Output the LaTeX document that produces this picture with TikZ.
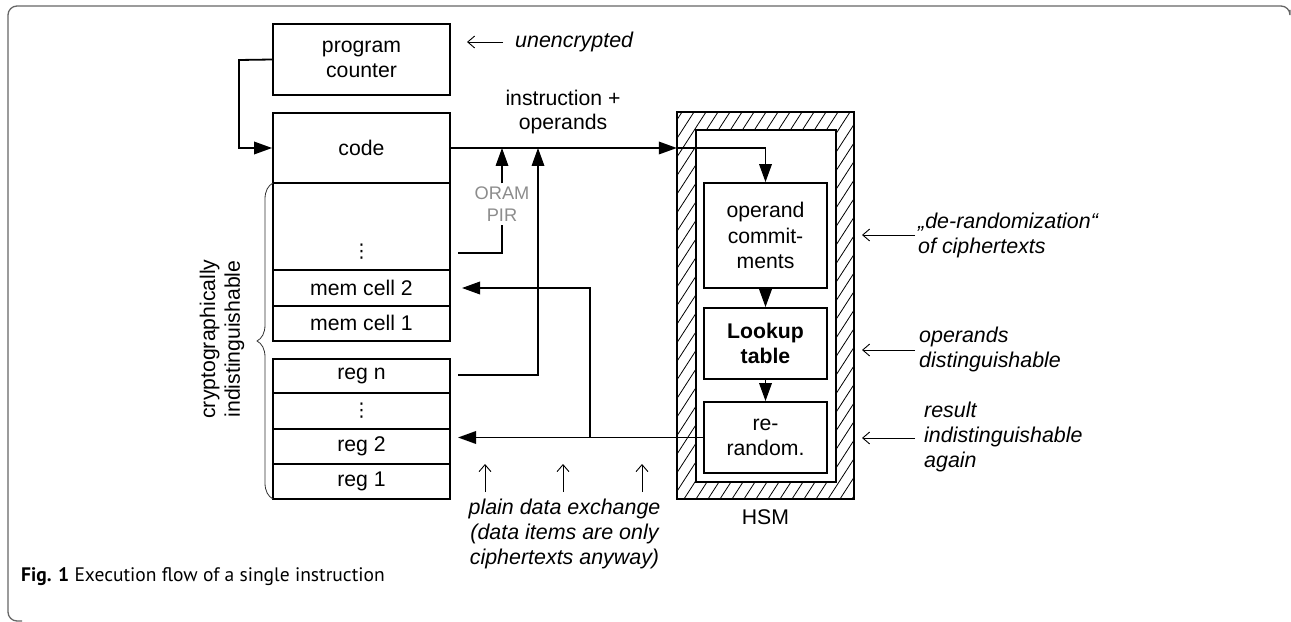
\documentclass[tikz,border=0pt]{standalone}
\usepackage{fontspec}
\setmainfont{Liberation Sans}
\newfontfamily\capfont{PT Sans}
\newfontfamily\dejavu{DejaVu Sans}
\usetikzlibrary{arrows.meta,decorations.pathreplacing,calc}
\begin{document}
\begin{tikzpicture}[x=1bp,y=-1bp,
  txt/.style={inner sep=0pt, align=center, font=\fontsize{21.3}{25}\selectfont},
  box/.style={draw, line width=1.8bp, minimum width=177bp, inner sep=0pt, align=center, font=\fontsize{21.3}{25}\selectfont},
  hbox/.style={draw, line width=1.8bp, minimum width=123bp, minimum height=71bp, inner sep=0pt, align=center, font=\fontsize{21.3}{25.5}\selectfont},
  anno/.style={inner sep=0pt, align=left, font=\itshape\fontsize{21.5}{25.5}\selectfont},
  conn/.style={line width=1.8bp},
  arr/.style={line width=1.8bp, -{Triangle[length=18bp,width=12.5bp]}},
  thinarr/.style={line width=0.9bp, -{Straight Barb[length=7bp,width=12bp]}},
  hatch/.style={line width=0.8bp},
  vd/.style={inner sep=0pt, font=\dejavu\fontsize{19}{19}\selectfont}
]
\useasboundingbox (0,0) rectangle (1291,622);
% frame
\draw[black!60, line width=1.3bp, rounded corners=9bp] (1290,10) -- (1290,6) -- (8,6) -- (8,621) -- (22,621);

% left column
\node[box, minimum height=71bp] (pc) at (361.5,59.5) {program\\counter};
\node[box, minimum height=70bp] (code) at (361.5,148) {code};
\node[box, minimum height=87.3bp] (memdots) at (361.5,226.4) {};
\node[vd] (memvd) at (361.5,252) {⋮};
\node[box, minimum height=35.7bp] (mem2) at (361.5,287.9) {mem cell 2};
\node[box, minimum height=35bp] (mem1) at (361.5,323.2) {mem cell 1};
\node[box, minimum height=34bp] (regn) at (361.5,376) {reg n};
\node[box, minimum height=36bp] (regdots) at (361.5,411) {};
\node[vd] (regvd) at (361.5,411) {⋮};
\node[box, minimum height=35bp] (reg2) at (361.5,446.5) {reg 2};
\node[box, minimum height=35bp] (reg1) at (361.5,481.5) {reg 1};

% brace
\coordinate (brtop) at (273,183);
\coordinate (brbot) at (273,499);
\draw[decorate, decoration={brace, amplitude=16bp}, line width=0.8bp, black!80] (brbot) -- (brtop);
\node[txt, rotate=90] (crypt) at (222,339) {cryptographically\\indistinguishable};

% HSM
\node[minimum width=177bp, minimum height=387bp, inner sep=0pt] (hsm) at (765.5,305.5) {};
\begin{scope}
  \clip (hsm.south west) rectangle (hsm.north east);
  \foreach \i in {-300,-288,...,900} {
    \draw[hatch] (\i,499) -- (\i+250,112);
  }
\end{scope}
\draw[line width=1.8bp] (hsm.south west) rectangle (hsm.north east);
\node[draw, fill=white, line width=1.8bp, minimum width=140bp, minimum height=352bp, inner sep=0pt] (inner) at (766,306) {};
\node[hbox, minimum height=105bp] (opc) at (765.5,235.5) {operand\\commit-\\ments};
\node[hbox, font=\bfseries\fontsize{21.3}{25.5}\selectfont] (lookup) at (765.5,343.5) {Lookup\\table};
\node[hbox] (rerand) at (765.5,437.5) {re-\\random.};
\node[txt] (hsmlbl) at (765.5,517) {HSM};

\draw[arr] (opc.south) -- (lookup.north);
\draw[arr] (lookup.south) -- (rerand.north);

% code -> HSM
\coordinate (hsmin) at (code.east -| hsm.west);
\draw[arr] (code.east) -- (hsmin);
\draw[arr] (hsmin) -| (opc.north);
\node[txt] (instr) at (563,112) {instruction +\\operands};

% program counter loop
\coordinate (loopx) at (239,60);
\draw[arr] (pc.west) -- (loopx) |- (code.west);

% ORAM / PIR
\node[inner sep=3bp, align=center, text=black!45, font=\fontsize{18.3}{22}\selectfont] (oram) at (502,204) {ORAM\\PIR};
\coordinate (oramstart) at (458,253);
\draw[conn] (oramstart) -| (oram.south);
\draw[arr] (oram.north) -- (oram.north |- code.east);

% reg n -> code line
\coordinate (regnout) at (458,375);
\coordinate (up2) at (538,148);
\draw[arr] (regnout) -| (up2);

% result back
\coordinate (reg2in) at (458,437.5);
\coordinate (br) at (590,437.5);
\coordinate (mem2in) at (462,288);
\draw[arr] (rerand.west) -- (reg2in);
\draw[arr] (br) |- (mem2in);

% annotations
\coordinate (a1s) at (503,42); \coordinate (a1e) at (467,42);
\draw[thinarr] (a1s) -- (a1e);
\node[anno, anchor=west] (t1) at (515,42) {unencrypted};

\coordinate (a2s) at (915,235); \coordinate (a2e) at (862,235);
\draw[thinarr] (a2s) -- (a2e);
\node[anno, anchor=west] (t2) at (918,235.5) {„de-randomization“\\of ciphertexts};

\coordinate (a3s) at (915,350); \coordinate (a3e) at (862,350);
\draw[thinarr] (a3s) -- (a3e);
\node[anno, anchor=west] (t3) at (919,349.5) {operands\\distinguishable};

\coordinate (a4s) at (915,438); \coordinate (a4e) at (862,438);
\draw[thinarr] (a4s) -- (a4e);
\node[anno, anchor=west] (t4) at (924,437) {result\\indistinguishable\\again};

\foreach \x/\n in {485/p1,563/p2,642/p3} {
  \coordinate (\n s) at (\x,492);
  \coordinate (\n e) at (\x,464);
  \draw[thinarr] (\n s) -- (\n e);
}
\node[anno, align=center] (t5) at (564.5,534) {plain data exchange\\(data items are only\\ciphertexts anyway)};

% caption
\node[anchor=west, inner sep=0pt, font=\capfont\fontsize{19.6}{22}\selectfont] (cap) at (21,577) {\textbf{Fig. 1} Execution flow of a single instruction};
\end{tikzpicture}
\end{document}
